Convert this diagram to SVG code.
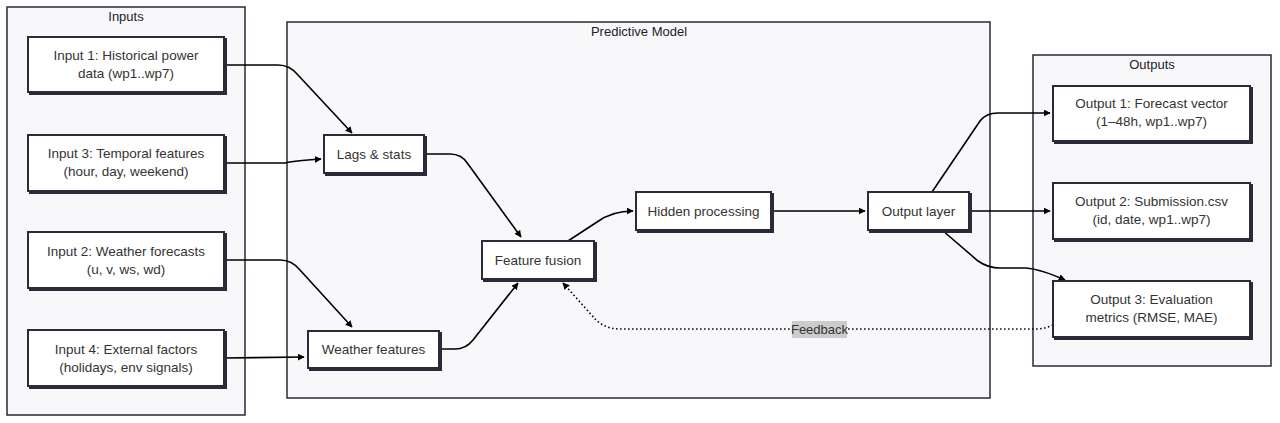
<svg xmlns="http://www.w3.org/2000/svg" width="1280" height="423" viewBox="0 0 1280 423">
<defs>
<style>
.cluster{fill:#f8f8fb;stroke:#2a2a38;stroke-width:1.5}
.node rect{fill:#ffffff;stroke:#2a2a38;stroke-width:2}
.shadow{fill:#e4e4ea;stroke:none}
text{font-family:"Liberation Sans",Arial,sans-serif;font-size:13.5px;fill:#333;text-anchor:middle}
.title{font-size:13px;fill:#222}
.edge{fill:none;stroke:#000;stroke-width:1.6;marker-end:url(#arr)}
.dotted{fill:none;stroke:#000;stroke-width:1.6;stroke-dasharray:1.5 2.5;marker-end:url(#arr)}
</style>
<marker id="arr" viewBox="0 0 10 10" refX="9" refY="5" markerWidth="7" markerHeight="7" markerUnits="userSpaceOnUse" orient="auto">
<path d="M0,0 L10,5 L0,10 z" fill="#000"/>
</marker>
</defs>
<rect width="1280" height="423" fill="#ffffff"/>
<g id="cluster-inputs">
<rect class="cluster" x="7" y="7" width="238" height="408"/>
<text class="title" x="126" y="21">Inputs</text>
</g>
<g id="cluster-model">
<rect class="cluster" x="287" y="22" width="703" height="376"/>
<text class="title" x="639" y="36">Predictive Model</text>
</g>
<g id="cluster-outputs">
<rect class="cluster" x="1033" y="55" width="238" height="311"/>
<text class="title" x="1152" y="69">Outputs</text>
</g>
<g id="connectors">
<path class="edge" d="M224,65 L278,65 Q290,65 298,75 L352,133"/>
<path class="edge" d="M224,163 L285,163 Q292,161 321,159"/>
<path class="edge" d="M224,260 L280,260 Q292,260 300,270 L352,327"/>
<path class="edge" d="M224,358 L304,357"/>
<path class="edge" d="M424,154 L450,154 Q462,154 468,164 L521,237"/>
<path class="edge" d="M439,349 L455,349 Q466,349 473,340 L518,283"/>
<path class="edge" d="M568,241 L597,222 Q612,211 633,211"/>
<path class="edge" d="M771,211 L865,211"/>
<path class="edge" d="M932,192 L980,121 Q986,113 998,113 L1050,113"/>
<path class="edge" d="M969,211 L1050,211"/>
<path class="edge" d="M942,230 L978,261 Q988,268 1000,268 L1026,268 Q1040,269 1065,280"/>
<path class="dotted" d="M1053,325 Q1045,329 1035,329 L620,329 Q606,329 596,320 L563,283"/>
<rect x="792" y="321" width="55" height="17" fill="#cccccc"/>
<text x="819.5" y="334" style="font-size:13px">Feedback</text>
</g>
<g id="input1" class="node">
<rect class="shadow" x="30" y="39" width="196" height="55"/>
<rect x="28" y="37" width="196" height="55"/>
<text x="126" y="60">Input 1: Historical power</text>
<text x="126" y="78">data (wp1..wp7)</text>
</g>
<g id="input3" class="node">
<rect class="shadow" x="30" y="137" width="196" height="56"/>
<rect x="28" y="135" width="196" height="56"/>
<text x="126" y="158">Input 3: Temporal features</text>
<text x="126" y="176">(hour, day, weekend)</text>
</g>
<g id="input2" class="node">
<rect class="shadow" x="30" y="234" width="196" height="56"/>
<rect x="28" y="232" width="196" height="56"/>
<text x="126" y="256">Input 2: Weather forecasts</text>
<text x="126" y="274">(u, v, ws, wd)</text>
</g>
<g id="input4" class="node">
<rect class="shadow" x="30" y="332" width="196" height="56"/>
<rect x="28" y="330" width="196" height="56"/>
<text x="126" y="354">Input 4: External factors</text>
<text x="126" y="372">(holidays, env signals)</text>
</g>
<g id="lags" class="node">
<rect class="shadow" x="326" y="137" width="100" height="38"/>
<rect x="324" y="135" width="100" height="38"/>
<text x="374" y="159">Lags &amp; stats</text>
</g>
<g id="weather" class="node">
<rect class="shadow" x="310" y="333" width="131" height="37"/>
<rect x="308" y="331" width="131" height="37"/>
<text x="373.5" y="354">Weather features</text>
</g>
<g id="fusion" class="node">
<rect class="shadow" x="484" y="243" width="112" height="38"/>
<rect x="482" y="241" width="112" height="38"/>
<text x="538" y="265">Feature fusion</text>
</g>
<g id="hidden" class="node">
<rect class="shadow" x="638" y="194" width="135" height="38"/>
<rect x="636" y="192" width="135" height="38"/>
<text x="703.5" y="216">Hidden processing</text>
</g>
<g id="outlayer" class="node">
<rect class="shadow" x="870" y="194" width="101" height="38"/>
<rect x="868" y="192" width="101" height="38"/>
<text x="918.5" y="216">Output layer</text>
</g>
<g id="output1" class="node">
<rect class="shadow" x="1055" y="88" width="197" height="55"/>
<rect x="1053" y="86" width="197" height="55"/>
<text x="1151.5" y="108">Output 1: Forecast vector</text>
<text x="1151.5" y="126">(1–48h, wp1..wp7)</text>
</g>
<g id="output2" class="node">
<rect class="shadow" x="1055" y="185" width="197" height="56"/>
<rect x="1053" y="183" width="197" height="56"/>
<text x="1151.5" y="206">Output 2: Submission.csv</text>
<text x="1151.5" y="224">(id, date, wp1..wp7)</text>
</g>
<g id="output3" class="node">
<rect class="shadow" x="1055" y="283" width="197" height="56"/>
<rect x="1053" y="281" width="197" height="56"/>
<text x="1151.5" y="304">Output 3: Evaluation</text>
<text x="1151.5" y="322">metrics (RMSE, MAE)</text>
</g>
</svg>
